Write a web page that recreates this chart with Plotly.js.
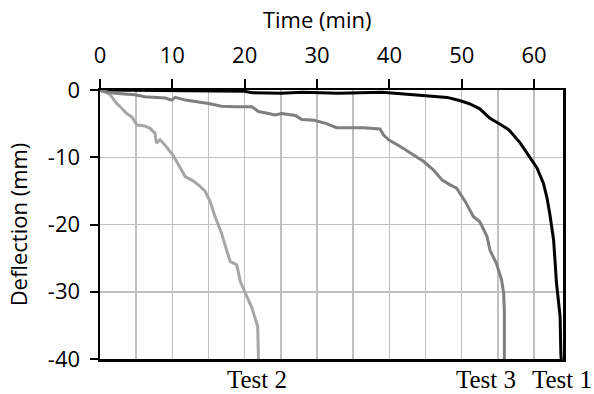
<!DOCTYPE html>
<html>
<head>
<meta charset="utf-8">
<script src="https://cdn.plot.ly/plotly-3.0.1.min.js"></script>
<style>html,body{margin:0;padding:0;background:#fff;}#chart{width:594px;height:394px;}</style>
</head>
<body>
<div id="chart"></div>
<script>
// Time (min) and deflection (mm)
const test1Time = [0, 5, 10, 15, 20, 21, 25, 28, 33, 39, 43, 46, 48, 49.8, 51.2, 52.5, 53.9, 55.3, 56.5, 58.1, 59.4, 60.4, 61.3, 61.8, 62.2, 62.7, 63.1, 63.6, 63.7, 63.75];
const test1Defl = [0, -0.05, -0.1, -0.15, -0.2, -0.4, -0.5, -0.35, -0.5, -0.35, -0.65, -0.95, -1.1, -1.6, -2.1, -2.8, -4.2, -5.1, -5.9, -7.9, -9.9, -11.6, -13.9, -16.1, -18.6, -22.3, -28.7, -33.7, -39.1, -40];

const test2Time = [0, 0.2, 1.4, 2.3, 2.8, 3.7, 4.4, 5.1, 6.2, 6.9, 7.6, 7.8, 8.3, 9.0, 10.1, 10.8, 11.8, 12.7, 13.6, 14.5, 15.2, 15.9, 16.8, 17.5, 18.0, 18.9, 19.4, 20.0, 21.0, 21.8, 21.9];
const test2Defl = [0, 0, -0.7, -2.0, -2.5, -3.5, -4.0, -5.2, -5.35, -5.7, -6.4, -7.9, -7.4, -8.2, -9.7, -11.1, -12.9, -13.4, -14.1, -15.0, -16.5, -18.8, -21.3, -23.8, -25.5, -26.0, -28.5, -30.0, -32.4, -35.2, -40];

const test3Time = [0, 0.2, 2.1, 4.8, 6.2, 7.8, 9.0, 9.9, 10.4, 11.8, 13.1, 15.0, 16.8, 18.7, 21.0, 21.9, 23.3, 24.2, 25.1, 27.0, 27.9, 29.6, 31.3, 32.7, 36.4, 38.7, 39.2, 39.9, 41.5, 43.3, 44.7, 46.1, 47.3, 48.4, 49.3, 50.5, 51.6, 52.5, 53.5, 53.9, 54.8, 55.5, 55.8, 55.9, 55.9];
const test3Defl = [0, -0.15, -0.5, -0.7, -1.0, -1.1, -1.2, -1.5, -1.1, -1.5, -1.7, -2.0, -2.4, -2.5, -2.5, -3.2, -3.5, -3.7, -3.5, -3.8, -4.4, -4.5, -5.0, -5.6, -5.6, -5.8, -6.7, -7.4, -8.4, -9.7, -10.6, -11.9, -13.4, -14.1, -14.6, -16.6, -18.8, -19.6, -21.8, -23.8, -25.8, -28.2, -30.2, -33.2, -40];

const seriesNames = ["Test 1", "Test 2", "Test 3"];
const xTicks = [0, 10, 20, 30, 40, 50, 60];
const yTicks = [0, -10, -20, -30, -40];

const sans = "Open Sans, Calibri, Carlito, sans-serif";
const serif = "Liberation Serif, Times New Roman, serif";
const NB = "\u00a0";
const ZW = "\u200b";

const traces = [
  {x: test1Time, y: test1Defl, name: seriesNames[0], mode: "lines", line: {color: "#000000", width: 3}},
  {x: test2Time, y: test2Defl, name: seriesNames[1], mode: "lines", line: {color: "#a6a6a6", width: 3}},
  {x: test3Time, y: test3Defl, name: seriesNames[2], mode: "lines", line: {color: "#7f7f7f", width: 3}}
];

const labelFont = {family: serif, size: 25, color: "#000000"};

const layout = {
  width: 594, height: 394,
  margin: {l: 100, r: 31, t: 90, b: 35, pad: 0},
  paper_bgcolor: "#ffffff", plot_bgcolor: "#ffffff",
  showlegend: false,
  font: {family: sans, size: 22, color: "#000000"},
  xaxis: {
    side: "top", range: [0, 64], tickvals: xTicks, ticktext: xTicks.map(String),
    showgrid: true, gridcolor: "#c0c0c0", gridwidth: 1.5,
    minor: {dtick: 5, tick0: 0, showgrid: true, gridcolor: "#c0c0c0", gridwidth: 1.5, ticks: ""},
    showline: true, linecolor: "#000000", linewidth: 2.5, mirror: true,
    ticks: "outside", ticklen: 9, tickwidth: 2, tickcolor: "#000000",
    ticklabelstandoff: 7,
    zeroline: false, fixedrange: true,
    tickfont: {family: sans, size: 22},
    title: {text: "Time (min)" + NB.repeat(5) + ZW, font: {family: sans, size: 22}, standoff: 4}
  },
  yaxis: {
    range: [-40, 0], tickvals: yTicks, ticktext: yTicks.map(String),
    showgrid: true, gridcolor: "#c0c0c0", gridwidth: 1.5,
    showline: true, linecolor: "#000000", linewidth: 2.5, mirror: true,
    ticks: "outside", ticklen: 8, tickwidth: 2, tickcolor: "#000000",
    ticklabelstandoff: 5,
    zeroline: false, fixedrange: true,
    tickfont: {family: sans, size: 22},
    title: {text: NB.repeat(7) + "Deflection (mm)", font: {family: sans, size: 22}, standoff: 14}
  },
  annotations: [
    {text: seriesNames[1], xref: "x", yref: "paper", x: 21.7, y: -0.075, xanchor: "center", yanchor: "middle", showarrow: false, font: labelFont},
    {text: seriesNames[2], xref: "x", yref: "paper", x: 53.4, y: -0.075, xanchor: "center", yanchor: "middle", showarrow: false, font: labelFont},
    {text: seriesNames[0], xref: "x", yref: "paper", x: 63.9, y: -0.075, xanchor: "center", yanchor: "middle", showarrow: false, font: labelFont}
  ]
};

Plotly.newPlot("chart", traces, layout, {staticPlot: true, displayModeBar: false});
</script>
</body>
</html>
